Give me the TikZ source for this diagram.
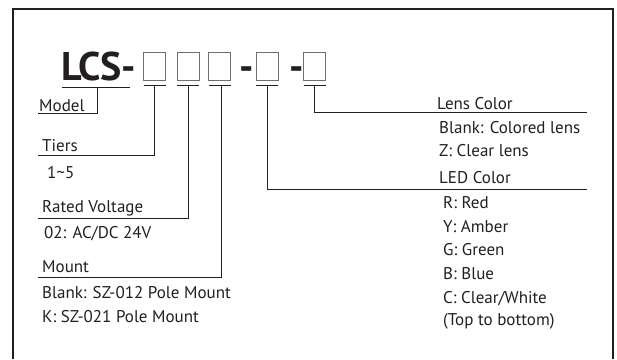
\documentclass[tikz,border=0pt]{standalone}
\usepackage{fontspec}
\setmainfont{PT Sans}
\definecolor{ink}{HTML}{231F20}
\definecolor{boxgray}{HTML}{6D6E71}
\begin{document}
\begin{tikzpicture}[x=1pt,y=-1pt,
  frame/.style={draw=ink,line width=1.6pt},
  conn/.style={draw=ink,line width=1pt},
  digit/.style={draw=boxgray,line width=0.9pt,minimum width=22pt,minimum height=28pt,inner sep=0pt,outer sep=0pt},
  lbl/.style={anchor=base west,inner sep=0pt,text=ink,font=\fontsize{17}{20}\selectfont},
  big/.style={anchor=base west,inner sep=0pt,text=ink,font=\fontsize{40}{44}\selectfont\bfseries}]
\useasboundingbox (0,0) rectangle (617,359);
\draw[frame] (13,359) -- (13,9) -- (613,9) -- (613,359);
% code
\node[big] (lcs) at (61,80) {LCS-};
\node[digit] (b1) at (154.5,66) {};
\node[digit] (b2) at (188,66) {};
\node[digit] (b3) at (219.5,66) {};
\node[big] (d1) at (239,80) {-};
\node[digit] (b4) at (267,66) {};
\node[big] (d2) at (289,80) {-};
\node[digit] (b5) at (314.5,66) {};
% underlines
\coordinate (u0) at (97,87);
\draw[conn] (62,87) -- (130,87);
\foreach \b in {b1,b2,b3,b4,b5}{
  \draw[conn] ([yshift=-5pt]\b.south west) -- ([yshift=-5pt]\b.south east);
  \coordinate (u\b) at ([yshift=-5pt]\b.south);
}
% connector ends
\coordinate (eModel) at (38,113);
\coordinate (eTiers) at (38,155);
\coordinate (eVolt) at (38,218);
\coordinate (eMount) at (38,277);
\coordinate (eLed) at (587,189);
\coordinate (eLens) at (587,112);
\draw[conn] (u0) |- (eModel);
\draw[conn] (ub1) |- (eTiers);
\draw[conn] (ub2) |- (eVolt);
\draw[conn] ([xshift=2pt]ub3) |- (eMount);
\draw[conn] (ub4) |- (eLed);
\draw[conn] (ub5) |- (eLens);
% labels left
\node[lbl] (tModel) at (39,111) {Model};
\node[lbl] (tTiers) at (42,151) {Tiers};
\node[lbl] (tTiersV) at (47,178) {1\char`~5};
\node[lbl] (tVolt) at (42,212) {Rated Voltage};
\node[lbl] (tVoltV) at (44,238) {02: AC/DC 24V};
\node[lbl] (tMount) at (42,272) {Mount};
\node[lbl] (tMount1) at (42,298) {Blank: SZ-012 Pole Mount};
\node[lbl] (tMount2) at (42,322) {K: SZ-021 Pole Mount};
% labels right
\node[lbl] (tLens) at (437,109) {Lens Color};
\node[lbl] (tLens1) at (439,133) {Blank: Colored lens};
\node[lbl] (tLens2) at (439,156) {Z: Clear lens};
\node[lbl] (tLed) at (439,183) {LED Color};
\node[lbl] (tR) at (443,208) {R: Red};
\node[lbl] (tY) at (443,232) {Y: Amber};
\node[lbl] (tG) at (443,255) {G: Green};
\node[lbl] (tB) at (443,279) {B: Blue};
\node[lbl] (tC) at (443,303) {C: Clear/White};
\node[lbl] (tT) at (443,325) {(Top to bottom)};
\end{tikzpicture}
\end{document}
